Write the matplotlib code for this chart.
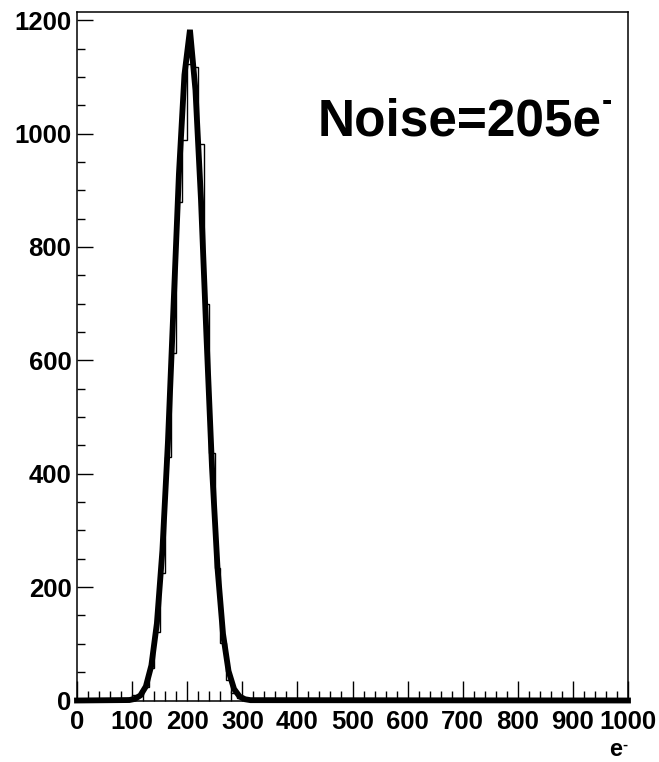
import matplotlib
matplotlib.use("Agg")
import matplotlib.pyplot as plt
from matplotlib.ticker import MultipleLocator

plt.rcParams["font.family"] = ["Liberation Sans", "DejaVu Sans"]
plt.rcParams["font.weight"] = "bold"

# histogram: 10 e- bins, non-empty part starts at 80 e-
bin_width = 10
first_bin = 80
counts = [1, 4, 10, 9, 24, 58, 121, 225, 430, 613, 880, 988,
          1123, 1118, 982, 700, 436, 234, 101, 36, 14, 5, 2, 1]

# gaussian fit curve as drawn (sampled points)
fit_x = [0, 95, 105, 115, 125, 135, 145, 155, 165, 175, 185, 195, 205,
         215, 225, 235, 245, 255, 265, 275, 285, 295, 305, 315, 1000]
fit_y = [0, 0.8, 2.8, 8.9, 24.9, 61.9, 136, 264.6, 454.8, 691, 928.8,
         1103.6, 1183, 1076.7, 884, 642, 412, 234, 117.4, 52.1, 20.4,
         7.1, 2.2, 0.6, 0]

noise_label = "Noise=205e"
x_unit = "e"

edges = [first_bin + bin_width * i for i in range(len(counts) + 1)]

fig = plt.figure(figsize=(6.59, 7.62), dpi=100)
ax = fig.add_axes([77 / 659, 1 - 700.5 / 762, 551 / 659, 688.8 / 762])

ax.stairs(counts, edges, color="black", lw=1.0)
ax.plot(fit_x, fit_y, color="black", lw=4.2, solid_joinstyle="miter", clip_on=False)

ax.set_xlim(0, 1000)
ax.set_ylim(0, 1215)
ax.xaxis.set_major_locator(MultipleLocator(100))
ax.xaxis.set_minor_locator(MultipleLocator(20))
ax.yaxis.set_major_locator(MultipleLocator(200))
ax.yaxis.set_minor_locator(MultipleLocator(50))
ax.tick_params(which="both", direction="in", top=False, right=False, width=1.0, labelsize=18.5)
ax.tick_params(axis="x", which="major", length=14.4, pad=7)
ax.tick_params(axis="x", which="minor", length=7.2)
ax.tick_params(axis="y", which="major", length=11.5, pad=4)
ax.tick_params(axis="y", which="minor", length=5.8)
for sp in ax.spines.values():
    sp.set_linewidth(1.1)

t = fig.text(318 / 659, 1 - 135 / 762, noise_label, fontsize=37, fontweight="bold")
ax.annotate("-", xy=(1.0, 0.9), xycoords=t, fontsize=22, fontweight="bold",
            ha="left", va="center", annotation_clip=False)

u = fig.text(622 / 659, 1 - 756 / 762, x_unit, fontsize=17, fontweight="bold", ha="right")
ax.annotate("-", xy=(1.0, 0.72), xycoords=u, fontsize=11, fontweight="bold",
            ha="left", va="center", annotation_clip=False)

fig.savefig("out.png", dpi=100)
